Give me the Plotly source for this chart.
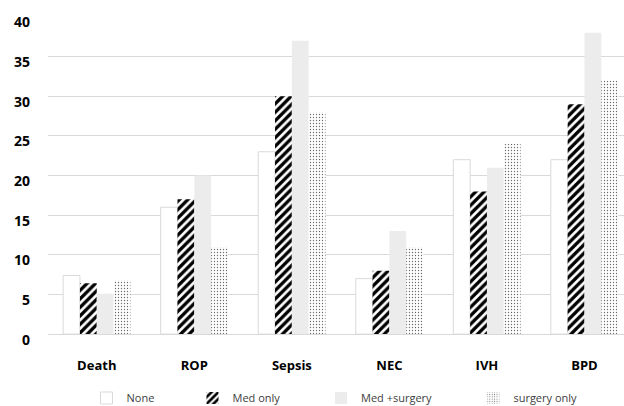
import plotly.graph_objects as go

categories = ["Death", "ROP", "Sepsis", "NEC", "IVH", "BPD"]
none_vals = [7.4, 16, 23, 7, 22, 22]
med_only = [6.4, 17, 30, 8, 18, 29]
med_surgery = [5.1, 20, 37, 13, 21, 38]
surgery_only = [6.8, 11, 28, 11, 24, 32]
series_names = ["None", "Med only", "Med +surgery", "surgery only"]
y_ticks = [0, 5, 10, 15, 20, 25, 30, 35, 40]

fig = go.Figure()
fig.add_trace(go.Bar(
    x=categories, y=none_vals, name=series_names[0], legend="legend",
    marker=dict(color="white", line=dict(color="#d9d9d9", width=1)),
))
fig.add_trace(go.Bar(
    x=categories, y=med_only, name=series_names[1], legend="legend2",
    marker=dict(color="white", line=dict(width=0),
                pattern=dict(shape="/", fgcolor="black", bgcolor="white", fgopacity=1,
                             size=6, solidity=0.55, fillmode="overlay")),
))
fig.add_trace(go.Bar(
    x=categories, y=med_surgery, name=series_names[2], legend="legend3",
    marker=dict(color="#ececec", line=dict(width=0)),
))
fig.add_trace(go.Bar(
    x=categories, y=surgery_only, name=series_names[3], legend="legend4",
    marker=dict(color="white", line=dict(width=0),
                pattern=dict(shape=".", fgcolor="#6a6a6a", bgcolor="white", fgopacity=1,
                             size=3, solidity=0.15, fillmode="overlay")),
))

# invisible trace on a shifted axis to carry the y tick labels
fig.add_trace(go.Scatter(x=categories, y=none_vals, yaxis="y2",
                         mode="markers", marker=dict(opacity=0),
                         showlegend=False, hoverinfo="skip"))

shift = 0.7
leg_font = dict(size=11, color="#404040")
leg_y = -0.158


def leg(xpx):
    return dict(orientation="h", x=(xpx - 48) / 576, xanchor="left", y=leg_y,
                yanchor="middle", font=leg_font, itemwidth=30,
                bgcolor="rgba(0,0,0,0)")


fig.update_layout(
    width=624, height=406,
    margin=dict(l=48, r=0, t=17, b=60, autoexpand=False),
    paper_bgcolor="white", plot_bgcolor="white",
    font=dict(family="Open Sans", color="black"),
    barmode="group", bargap=0.31, bargroupgap=0,
    showlegend=True,
    legend=leg(86.5), legend2=leg(192.5), legend3=leg(321), legend4=leg(473.4),
    xaxis=dict(range=[-0.5, 5.405], showgrid=False, zeroline=False, showline=False,
               automargin=False,
               ticks="", tickfont=dict(size=13, color="black", weight="bold"),
               ticklabelstandoff=10),
    yaxis=dict(range=[-1.5, 40], tickvals=y_ticks, showticklabels=False,
               automargin=False,
               showgrid=True, gridcolor="#d9d9d9", gridwidth=1.3,
               zeroline=True, zerolinecolor="#d9d9d9", zerolinewidth=1.3,
               showline=False, ticks=""),
    yaxis2=dict(overlaying="y", side="left", range=[-1.5 + shift, 40 + shift],
                automargin=False,
                tickvals=y_ticks, showgrid=False, zeroline=False, showline=False,
                ticks="", tickfont=dict(size=14, color="black", weight="bold"),
                ticklabelstandoff=17),
)

fig.write_html("out.html", config={"displayModeBar": False},
               post_script="document.body.style.margin='0';")
